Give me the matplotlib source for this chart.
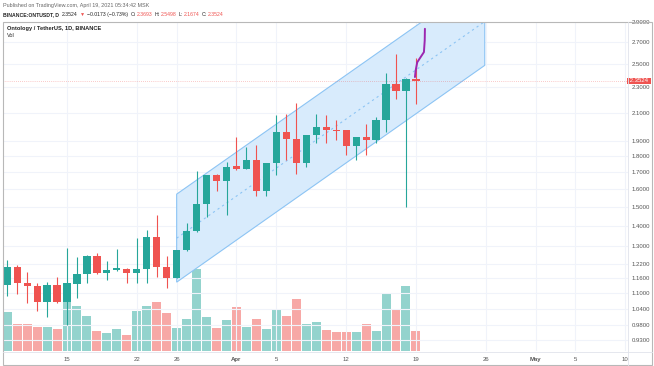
import numpy as np
import matplotlib
matplotlib.use("Agg")
import matplotlib.pyplot as plt
import matplotlib.transforms as mtransforms
from matplotlib.patches import Polygon, Rectangle
from matplotlib.lines import Line2D

# ---------------- data ----------------
dates = np.arange(np.datetime64('2021-03-09'), np.datetime64('2021-04-20'))
opens = [1.132, 1.207, 1.141, 1.129, 1.065, 1.132, 1.065, 1.136, 1.179, 1.257,
         1.183, 1.194, 1.199, 1.183, 1.199, 1.345, 1.208, 1.163, 1.282, 1.374,
         1.516, 1.682, 1.644, 1.733, 1.714, 1.775, 1.585, 1.750, 1.959, 1.913,
         1.754, 1.936, 1.994, 1.976, 1.971, 1.861, 1.924, 1.902, 2.042, 2.329,
         2.269, 2.3693]
highs = [1.238, 1.216, 1.187, 1.140, 1.145, 1.165, 1.292, 1.253, 1.260, 1.271,
         1.233, 1.288, 1.202, 1.339, 1.378, 1.454, 1.256, 1.285, 1.413, 1.704,
         1.680, 1.684, 1.759, 1.924, 1.854, 1.872, 1.752, 2.085, 2.092, 2.176,
         1.940, 2.092, 2.080, 2.043, 1.975, 1.927, 2.019, 2.067, 2.419, 2.593,
         2.380, 2.5498]
lows = [1.088, 1.096, 1.061, 1.033, 1.011, 1.062, 0.981, 1.080, 1.140, 1.180,
        1.152, 1.191, 1.140, 1.140, 1.140, 1.166, 1.121, 1.160, 1.280, 1.370,
        1.445, 1.585, 1.454, 1.710, 1.714, 1.558, 1.558, 1.678, 1.771, 1.688,
        1.729, 1.883, 1.883, 1.906, 1.803, 1.775, 1.803, 1.883, 1.959, 2.207,
        1.498, 2.1674]
closes = [1.207, 1.140, 1.130, 1.065, 1.132, 1.065, 1.139, 1.178, 1.257, 1.183,
          1.194, 1.202, 1.183, 1.199, 1.345, 1.208, 1.163, 1.282, 1.374, 1.516,
          1.678, 1.644, 1.729, 1.713, 1.771, 1.585, 1.750, 1.959, 1.913, 1.754,
          1.938, 1.994, 1.976, 1.964, 1.861, 1.924, 1.902, 2.042, 2.329, 2.269,
          2.3697, 2.3524]
volumes = [19.6, 13.3, 13.3, 12.2, 11.8, 10.8, 24.5, 22.7, 17.5, 10.2,
           8.8, 11.0, 8.0, 20.2, 22.7, 24.7, 18.8, 11.3, 16.0, 40.8,
           17.2, 11.7, 15.5, 22.2, 11.8, 16.2, 11.2, 20.5, 17.7, 25.8,
           13.3, 14.7, 10.5, 9.3, 9.3, 9.7, 13.5, 10.0, 29.2, 20.5,
           32.7, 10.2]

price_ticks = [0.93, 0.98, 1.04, 1.10, 1.16, 1.22, 1.30, 1.40, 1.50, 1.60,
               1.70, 1.80, 1.90, 2.10, 2.30, 2.50, 2.70, 2.90]
time_tick_dates = ['2021-03-15', '2021-03-22', '2021-03-26', '2021-04-01', '2021-04-05',
                   '2021-04-12', '2021-04-19', '2021-04-26', '2021-05-01', '2021-05-05',
                   '2021-05-10']
time_tick_labels = ['15', '22', '26', 'Apr', '5', '12', '19', '26', 'May', '5', '10']

# parallel channel (start day, end day as fractional days from first date; prices)
channel_days = [17.0, 47.9]
channel_upper = [1.568, 3.405]
channel_lower = [1.144, 2.487]

# projected path (purple)
path_days = [40.9, 40.97, 41.13, 41.47, 41.8, 41.88, 41.9]
path_prices = [2.385, 2.441, 2.515, 2.562, 2.608, 2.719, 2.835]

last_price = 2.3524

# ---------------- style ----------------
UP = '#26a69a'
DOWN = '#ef5350'
UP_VOL = '#93d3cd'
DOWN_VOL = '#f7a8a6'
GRID = '#f0f3fa'
FONT = 'Liberation Sans'
plt.rcParams['font.family'] = [FONT, 'DejaVu Sans']

W, H = 654, 366
fig = plt.figure(figsize=(W / 100, H / 100), dpi=100)

def fx(px):
    return px / W

def fy(py):
    return 1 - py / H

left_px, right_px, top_px, bot_px = 3, 628, 22, 351
pos = [fx(left_px), fy(bot_px), fx(right_px) - fx(left_px), fy(top_px) - fy(bot_px)]

x = (dates - dates[0]).astype(int)
xlim = (-0.42, 62.27)

# volume axes (behind)
axv = fig.add_axes(pos, zorder=0)
up = np.array(closes) >= np.array(opens)
axv.bar(x, volumes, width=0.9, color=[UP_VOL if u else DOWN_VOL for u in up], linewidth=0)
axv.set_xlim(*xlim)
axv.set_ylim(0, 164.5)
axv.axis('off')

# price axes
ax = fig.add_axes(pos, zorder=1)
ax.patch.set_alpha(0)
ax.set_yscale('log')
ax.set_xlim(*xlim)
ax.set_ylim(0.894, 2.905)

tick_x = [(np.datetime64(d) - dates[0]).astype(int) for d in time_tick_dates]
for t in tick_x:
    ax.axvline(t, color=GRID, lw=0.8, zorder=0)
for p in price_ticks:
    ax.axhline(p, color=GRID, lw=0.8, zorder=0)

# channel
poly = Polygon([[channel_days[0], channel_lower[0]], [channel_days[1], channel_lower[1]],
                [channel_days[1], channel_upper[1]], [channel_days[0], channel_upper[0]]],
               closed=True, facecolor='#d8ebfc', edgecolor='#8cc4f4', lw=0.8, zorder=1)
ax.add_patch(poly)
mid = np.sqrt(np.array(channel_upper) * np.array(channel_lower))
ax.plot(channel_days, mid, color='#8cc4f4', lw=0.8, ls=(0, (2, 3)), zorder=1.5)

# last price line
ax.axhline(last_price, color=DOWN, lw=0.5, ls=(0, (1, 2)), alpha=0.6, zorder=1.2)

# candles
o = np.array(opens); c = np.array(closes)
cols = [UP if u else DOWN for u in up]
ax.vlines(x, lows, highs, colors=cols, lw=0.8, zorder=2)
bottom = np.minimum(o, c)
height = np.maximum(np.abs(c - o), 0.006)
ax.bar(x, height, bottom=bottom, width=0.72, color=cols, linewidth=0, zorder=3)

# purple path
ax.plot(path_days, path_prices, color='#9c27b0', lw=1.4, solid_capstyle='round', zorder=4)

# axes styling
for s in ax.spines.values():
    s.set_visible(False)
ax.yaxis.tick_right()
ax.set_yticks(price_ticks)
ax.set_yticklabels(['%.4f' % p for p in price_ticks])
ax.yaxis.set_minor_locator(plt.NullLocator())
ax.tick_params(axis='y', length=0, pad=2.5, labelsize=4.3, labelcolor='#555555')
ax.set_xticks(tick_x)
ax.set_xticklabels(time_tick_labels)
for lbl, t in zip(ax.get_xticklabels(), time_tick_labels):
    if t in ('Apr', 'May'):
        lbl.set_fontweight('bold')
ax.tick_params(axis='x', length=0, pad=4, labelsize=4.3, labelcolor='#555555')

# price label on axis
trans = mtransforms.blended_transform_factory(ax.transAxes, ax.transData)
ax.text(1.0, last_price, ' 2.3524 ', transform=trans, ha='left', va='center',
        fontsize=4.3, color='white', zorder=10, clip_on=False,
        bbox=dict(boxstyle='square,pad=0.15', fc=DOWN, ec='none'))

# frame
frame = Rectangle((fx(3), fy(365)), fx(652) - fx(3), fy(22) - fy(365), transform=fig.transFigure,
                  fill=False, ec='#b8b8b8', lw=0.8)
fig.patches.append(frame)
fig.lines.append(Line2D([fx(628), fx(628)], [fy(22), fy(365)], transform=fig.transFigure,
                        color='#e0e3eb', lw=0.6))
fig.lines.append(Line2D([fx(3), fx(652)], [fy(352), fy(352)], transform=fig.transFigure,
                        color='#e0e3eb', lw=0.6))

# header texts
fig.text(fx(3), fy(5), 'Published on TradingView.com, April 19, 2021 05:34:42 MSK',
         fontsize=3.9, color='#666666', va='center', ha='left')

fig.canvas.draw()
renderer = fig.canvas.get_renderer()
parts = [('BINANCE:ONTUSDT, D', '#222222', 'bold', 3.0),
         ('2.3524', '#222222', 'normal', 2.0),
         ('\u25bc', DOWN, 'normal', 2.0),
         ('\u22120.0173 (\u22120.73%)', '#222222', 'normal', 2.5),
         ('O:', '#222222', 'normal', 0.8), ('2.3693', DOWN, 'normal', 2.5),
         ('H:', '#222222', 'normal', 0.8), ('2.5498', DOWN, 'normal', 2.5),
         ('L:', '#222222', 'normal', 0.8), ('2.1674', DOWN, 'normal', 2.5),
         ('C:', '#222222', 'normal', 0.8), ('2.3524', DOWN, 'normal', 0)]
cx = 3
for s, col, wt, gap in parts:
    t = fig.text(fx(cx), fy(14.3), s, fontsize=3.7, color=col, fontweight=wt, va='center', ha='left')
    bb = t.get_window_extent(renderer)
    cx += bb.width + gap

fig.text(fx(7), fy(28.5), 'Ontology / TetherUS, 1D, BINANCE', fontsize=4.1, color='#222222',
         fontweight='bold', va='center', ha='left')
fig.text(fx(7), fy(35.5), 'Vol', fontsize=4.0, color='#222222', va='center', ha='left')

fig.savefig('out.png', dpi=100)
